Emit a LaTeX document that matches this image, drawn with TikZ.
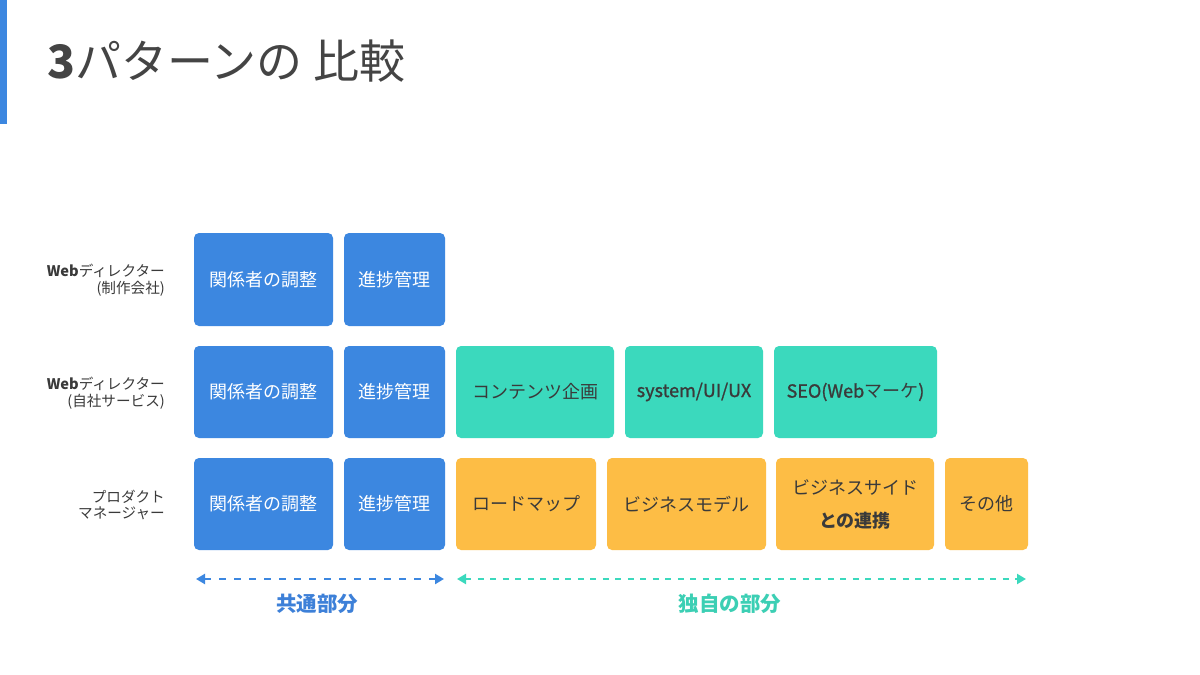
\documentclass[tikz,border=0pt]{standalone}
\usepackage{fontspec}
\setmainfont{Noto Sans CJK JP}
\newfontfamily\semibf[FakeBold=1.2]{Noto Sans CJK JP}
\usetikzlibrary{arrows.meta}
\definecolor{bbox}{HTML}{3C87E0}
\definecolor{tbox}{HTML}{3BD9BD}
\definecolor{obox}{HTML}{FDBD45}
\definecolor{darktxt}{HTML}{3A3A3A}
\definecolor{titletxt}{HTML}{444444}
\definecolor{bluelab}{HTML}{3D80D8}
\definecolor{teallab}{HTML}{3CCFB4}
\tikzset{
  cell/.style={rounded corners=5pt, inner sep=0pt, align=center, font=\fontsize{18}{24}\selectfont},
  bluecell/.style={cell, fill=bbox, text=white},
  tealcell/.style={cell, fill=tbox, text=darktxt},
  orcell/.style={cell, fill=obox, text=darktxt},
  rowlab/.style={anchor=east, align=right, text=darktxt, inner sep=0pt, font=\fontsize{14.6}{16.5}\selectfont},
  barrow/.style={draw=bbox, line width=2.6pt, dash pattern=on 7pt off 8pt, {Triangle[length=9pt,width=10pt]}-{Triangle[length=9pt,width=10pt]}},
  tarrow/.style={draw=tbox, line width=2.2pt, dash pattern=on 6pt off 6.5pt, {Triangle[length=9pt,width=10pt]}-{Triangle[length=9pt,width=10pt]}},
  bottomlab/.style={inner sep=0pt, font=\fontsize{20.5}{24}\selectfont\bfseries}
}
\begin{document}
\begin{tikzpicture}[x=1pt,y=-1pt]
\useasboundingbox (0,0) rectangle (1200,675);
\fill[white] (0,0) rectangle (1200,675);
% left accent bar
\fill[bbox] (0,0) rectangle (7,124);
% title
\node[anchor=west, inner sep=0pt, text=titletxt, font=\fontsize{46}{52}\selectfont] (title) at (47,61) {{\bfseries 3}パターンの 比較};

% row labels
\node[rowlab] (lab1) at (165,280) {{\bfseries Web}ディレクター\\(制作会社)};
\node[rowlab] (lab2) at (165,393) {{\bfseries Web}ディレクター\\(自社サービス)};
\node[rowlab] (lab3) at (165,505) {プロダクト\\マネージャー};

% row 1
\node[bluecell, minimum width=139pt, minimum height=93pt] (a1) at (263.5,279.5) {関係者の調整};
\node[bluecell, minimum width=101pt, minimum height=93pt] (b1) at (394.5,279.5) {進捗管理};
% row 2
\node[bluecell, minimum width=139pt, minimum height=92pt] (a2) at (263.5,392) {関係者の調整};
\node[bluecell, minimum width=101pt, minimum height=92pt] (b2) at (394.5,392) {進捗管理};
\node[tealcell, minimum width=158pt, minimum height=92pt] (c2) at (535,392) {コンテンツ企画};
\node[tealcell, minimum width=138pt, minimum height=92pt] (d2) at (694,392) {\semibf system/UI/UX};
\node[tealcell, minimum width=163pt, minimum height=92pt] (e2) at (855.5,392) {{\semibf SEO(Web}マーケ{\semibf )}};
% row 3
\node[bluecell, minimum width=139pt, minimum height=92pt] (a3) at (263.5,504) {関係者の調整};
\node[bluecell, minimum width=101pt, minimum height=92pt] (b3) at (394.5,504) {進捗管理};
\node[orcell, minimum width=140pt, minimum height=92pt] (c3) at (526,504) {ロードマップ};
\node[orcell, minimum width=159pt, minimum height=92pt] (d3) at (686.5,504) {ビジネスモデル};
\node[orcell, minimum width=158pt, minimum height=92pt, font=\fontsize{18}{33}\selectfont] (e3) at (855,504) {ビジネスサイド\\{\bfseries との連携}};
\node[orcell, minimum width=83pt, minimum height=92pt] (f3) at (986.5,504) {その他};

% arrows
\coordinate (bl) at (196,579);
\coordinate (br) at (444,579);
\coordinate (tl) at (457,579);
\coordinate (tr) at (1026,579);
\draw[barrow] (bl) -- (br);
\draw[tarrow] (tl) -- (tr);
\node[bottomlab, text=bluelab] (common) at (317,604) {共通部分};
\node[bottomlab, text=teallab] (unique) at (730,604) {独自の部分};
\end{tikzpicture}
\end{document}
